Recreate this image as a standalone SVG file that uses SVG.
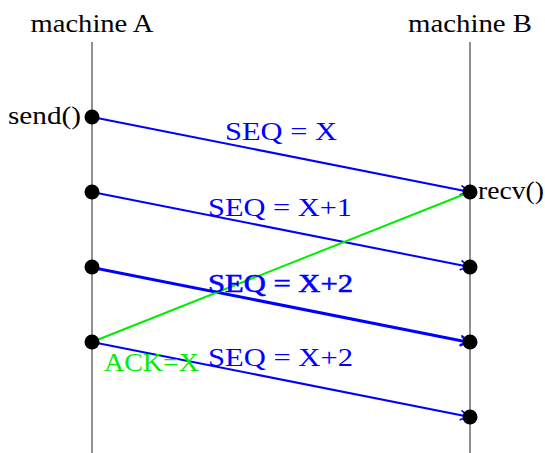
<svg xmlns="http://www.w3.org/2000/svg" width="545" height="453" viewBox="0 0 545 453">
<style>
text{font-family:"Liberation Serif","Times New Roman",serif;font-size:26px}
.lbl{fill:#000}
.seq{fill:#0000ff}
.ack{fill:#00ee00}
.life{stroke:#555;stroke-width:1.3;fill:none}
.msg{stroke:#0000ff;stroke-width:2;fill:none}
.ackl{stroke:#00ee00;stroke-width:2;fill:none}
.dot{fill:#000}
</style>
<defs>
<marker id="ab" markerUnits="userSpaceOnUse" viewBox="-12 -6 14 12" markerWidth="14" markerHeight="12" refX="0" refY="0" orient="auto">
<path d="M-9,-4.5 Q-3,-1 0,0 Q-3,1 -9,4.5" fill="none" stroke="#0000ff" stroke-width="1.7" stroke-linecap="round"/>
</marker>
</defs>
<g id="machineA">
<line class="life" x1="92" y1="42" x2="92" y2="453"/>
<text class="lbl" x="92" y="32" text-anchor="middle" textLength="123" lengthAdjust="spacingAndGlyphs">machine A</text>
</g>
<g id="machineB">
<line class="life" x1="470" y1="42" x2="470" y2="453"/>
<text class="lbl" x="470" y="32" text-anchor="middle" textLength="124" lengthAdjust="spacingAndGlyphs">machine B</text>
</g>
<g id="connectors">
<line class="msg" x1="92" y1="117" x2="470" y2="192" marker-end="url(#ab)"/>
<line class="msg" x1="92" y1="192" x2="470" y2="267" marker-end="url(#ab)"/>
<line class="msg" x1="92" y1="267" x2="470" y2="342" marker-end="url(#ab)"/>
<line class="msg" x1="92" y1="268" x2="470" y2="343" marker-end="url(#ab)"/>
<line class="msg" x1="92" y1="342" x2="470" y2="417" marker-end="url(#ab)"/>
<line class="ackl" x1="92" y1="342" x2="470" y2="192"/>
</g>
<g id="events">
<circle class="dot" cx="92" cy="117" r="7.5"/>
<circle class="dot" cx="92" cy="192" r="7.5"/>
<circle class="dot" cx="92" cy="267" r="7.5"/>
<circle class="dot" cx="92" cy="342" r="7.5"/>
<circle class="dot" cx="470" cy="192" r="7.5"/>
<circle class="dot" cx="470" cy="267" r="7.5"/>
<circle class="dot" cx="470" cy="342" r="7.5"/>
<circle class="dot" cx="470" cy="417" r="7.5"/>
</g>
<g id="labels">
<text class="lbl" x="8" y="124" textLength="73" lengthAdjust="spacingAndGlyphs">send()</text>
<text class="lbl" x="478" y="199" textLength="66" lengthAdjust="spacingAndGlyphs">recv()</text>
<text class="seq" x="281" y="140" text-anchor="middle" textLength="112" lengthAdjust="spacingAndGlyphs">SEQ = X</text>
<text class="seq" x="280" y="216" text-anchor="middle" textLength="144" lengthAdjust="spacingAndGlyphs">SEQ = X+1</text>
<text class="seq" x="280.5" y="292" text-anchor="middle" textLength="145" lengthAdjust="spacingAndGlyphs" stroke="#0000ff" stroke-width="0.6">SEQ = X+2</text>
<text class="seq" x="280.5" y="366" text-anchor="middle" textLength="145" lengthAdjust="spacingAndGlyphs">SEQ = X+2</text>
<text class="ack" x="104" y="371" textLength="95" lengthAdjust="spacingAndGlyphs">ACK=X</text>
</g>
</svg>
